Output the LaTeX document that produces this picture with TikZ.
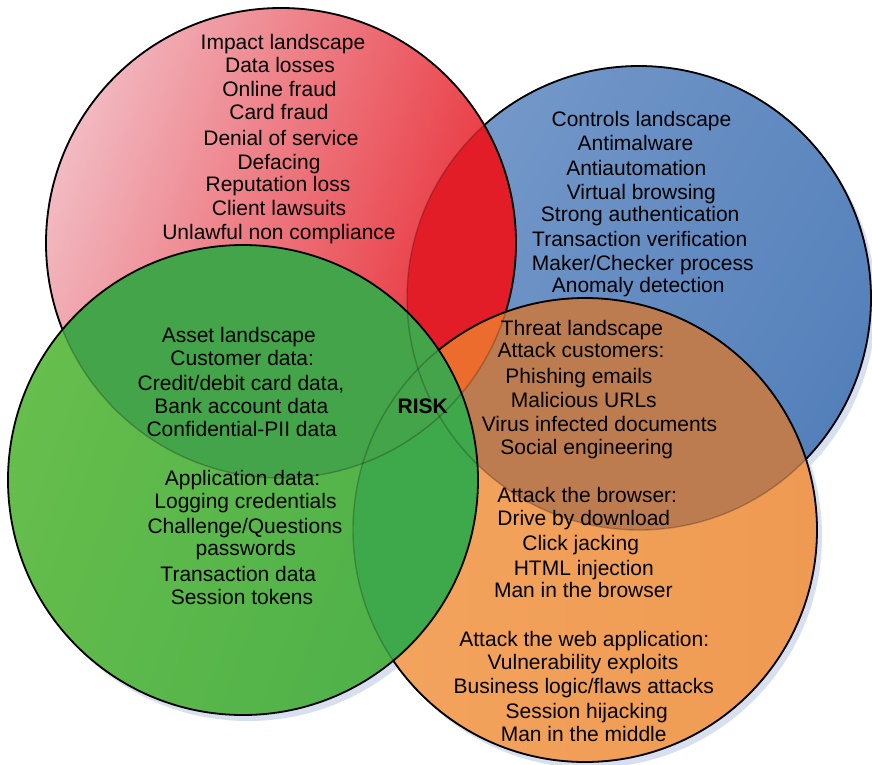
\documentclass[tikz,border=0pt]{standalone}
\usepackage{fontspec}
\setmainfont{Liberation Sans}
\definecolor{blueL}{HTML}{7498C9}
\definecolor{blueR}{HTML}{5480BA}
\definecolor{redL}{HTML}{F2BAC2}
\definecolor{redR}{HTML}{E8262E}
\definecolor{redblue}{HTML}{E31D27}
\definecolor{orangeL}{HTML}{F3A45E}
\definecolor{orangeR}{HTML}{EF9A52}
\definecolor{brownish}{HTML}{BD7C4F}
\definecolor{brightorange}{HTML}{EB6C2C}
\definecolor{greenL}{HTML}{66BE4C}
\definecolor{greenR}{HTML}{4DB049}
\definecolor{greenorange}{HTML}{3EA94A}
\definecolor{greenred}{HTML}{44A449}
\definecolor{shadowc}{HTML}{D8DFEE}
\begin{document}
\begin{tikzpicture}[x=1pt,y=-1pt,
  edge/.style={draw=black,line width=1.8pt},
  hidden/.style={draw=black,line width=1.4pt,draw opacity=0.22},
  lbl/.style={anchor=base,inner sep=0pt,font=\fontsize{21}{24}\selectfont},
  lblb/.style={lbl,font=\fontsize{21}{24}\selectfont\bfseries}]
\useasboundingbox (0,0) rectangle (872,764);
\coordinate (B) at (639,298);
\coordinate (R) at (281,243);
\coordinate (O) at (585,530);
\coordinate (G) at (243,480);
% shadows
\fill[shadowc] ([shift={(5,6)}]B) circle (232);
\fill[shadowc] ([shift={(5,6)}]O) circle (232);
\fill[shadowc] ([shift={(5,6)}]G) circle (235);
% blue
\shade[left color=blueL,right color=blueR,shading angle=60] (B) circle (232);
\draw[edge] (B) circle (232);
% red
\shade[left color=redL,right color=redR,shading angle=70] (R) circle (235);
\begin{scope}
  \clip (R) circle (235);
  \fill[redblue] (B) circle (232);
\end{scope}
\draw[edge] (R) circle (235);
% orange
\shade[left color=orangeL,right color=orangeR] (O) circle (232);
\begin{scope}
  \clip (O) circle (232);
  \fill[brownish] (B) circle (232);
  \fill[brightorange] (R) circle (235);
\end{scope}
\draw[edge] (O) circle (232);
% green
\shade[left color=greenL,right color=greenR,shading angle=70] (G) circle (235);
\begin{scope}
  \clip (G) circle (235);
  \fill[greenorange] (O) circle (232);
  \fill[greenred] (R) circle (235);
\end{scope}
\draw[edge] (G) circle (235);
% hidden edges
\draw[hidden] (B) circle (232);
\draw[hidden] (R) circle (235);
\draw[hidden] (O) circle (232);
% red texts
\node[lbl] (r1) at (283,49.3) {Impact landscape};
\node[lbl] (r2) at (280,72.7) {Data losses};
\node[lbl] (r3) at (279.5,96) {Online fraud};
\node[lbl] (r4) at (279,119.3) {Card fraud};
\node[lbl] (r5) at (281,145) {Denial of service};
\node[lbl] (r6) at (279,169) {Defacing};
\node[lbl] (r7) at (278,191.7) {Reputation loss};
\node[lbl] (r8) at (279,215) {Client lawsuits};
\node[lbl] (r9) at (279,239.3) {Unlawful non compliance};
% blue texts
\node[lbl] (b1) at (641.5,126) {Controls landscape};
\node[lbl] (b2) at (635.5,150.7) {Antimalware};
\node[lbl] (b3) at (636.3,175.7) {Antiautomation};
\node[lbl] (b4) at (641.3,199) {Virtual browsing};
\node[lbl] (b5) at (640.2,221) {Strong authentication};
\node[lbl] (b6) at (639.8,246.7) {Transaction verification};
\node[lbl] (b7) at (642.7,270.7) {Maker/Checker process};
\node[lbl] (b8) at (638.2,292.7) {Anomaly detection};
% orange texts
\node[lbl] (o1) at (582,335) {Threat landscape};
\node[lbl] (o2) at (581,357.3) {Attack customers:};
\node[lbl] (o3) at (579,383.5) {Phishing emails};
\node[lbl] (o4) at (583.8,407) {Malicious URLs};
\node[lbl] (o5) at (599.5,431.3) {Virus infected documents};
\node[lbl] (o6) at (586.8,454.7) {Social engineering};
\node[lbl] (o7) at (587.2,502.7) {Attack the browser:};
\node[lbl] (o8) at (583.8,525.3) {Drive by download};
\node[lbl] (o9) at (580.7,550.3) {Click jacking};
\node[lbl] (o10) at (583.8,575.3) {HTML injection};
\node[lbl] (o11) at (583.3,597) {Man in the browser};
\node[lbl] (o12) at (584.3,646) {Attack the web application:};
\node[lbl] (o13) at (583,669.3) {Vulnerability exploits};
\node[lbl] (o14) at (583.7,693.7) {Business logic/flaws attacks};
\node[lbl] (o15) at (586.7,718) {Session hijacking};
\node[lbl] (o16) at (583.7,741) {Man in the middle};
% green texts
\node[lbl] (g1) at (238.8,342.3) {Asset landscape};
\node[lbl] (g2) at (242.2,365.7) {Customer data:};
\node[lbl] (g3) at (241,390.7) {Credit/debit card data,};
\node[lbl] (g4) at (241.3,413.7) {Bank account data};
\node[lbl] (g5) at (241.7,436.3) {Confidential-PII data};
\node[lbl] (g6) at (242.5,485.3) {Application data:};
\node[lbl] (g7) at (245.5,508) {Logging credentials};
\node[lbl] (g8) at (245,533) {Challenge/Questions};
\node[lbl] (g9) at (245.8,555.3) {passwords};
\node[lbl] (g10) at (238.3,581) {Transaction data};
\node[lbl] (g11) at (242,604.3) {Session tokens};
% center
\node[lblb] (risk) at (422.8,413.3) {RISK};
\end{tikzpicture}
\end{document}
